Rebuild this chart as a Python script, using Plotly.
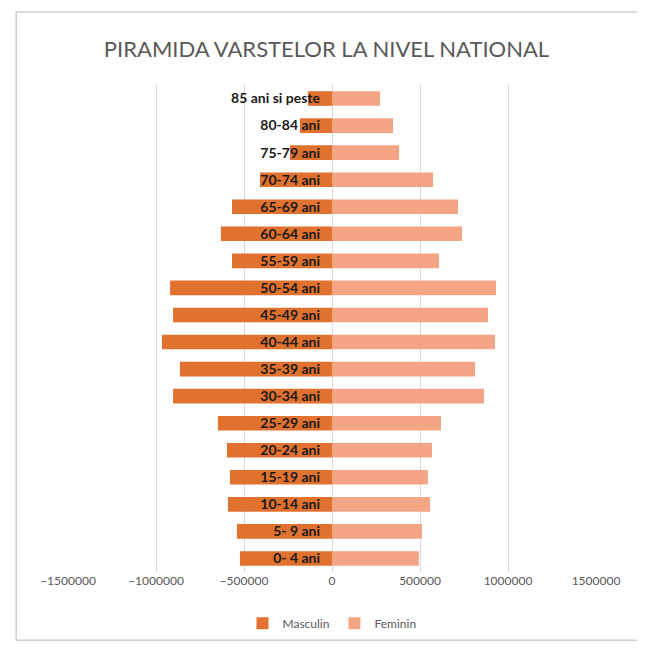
import plotly.graph_objects as go

categories = ["0- 4 ani", "5- 9 ani", "10-14 ani", "15-19 ani", "20-24 ani", "25-29 ani",
              "30-34 ani", "35-39 ani", "40-44 ani", "45-49 ani", "50-54 ani", "55-59 ani",
              "60-64 ani", "65-69 ani", "70-74 ani", "75-79 ani", "80-84 ani", "85 ani si peste"]
masculin = [-523000, -540000, -591000, -580000, -597000, -648000,
            -903000, -864000, -966000, -903000, -920000, -568000,
            -631000, -568000, -409000, -239000, -182000, -136000]
feminin = [494000, 511000, 557000, 545000, 568000, 619000,
           864000, 813000, 926000, 886000, 932000, 608000,
           739000, 716000, 574000, 381000, 347000, 273000]
tick_vals = [-1500000, -1000000, -500000, 0, 500000, 1000000, 1500000]

fig = go.Figure()
fig.add_trace(go.Bar(y=categories, x=masculin, orientation="h", name="Masculin",
                     marker=dict(color="#E0712F", line=dict(width=0))))
fig.add_trace(go.Bar(y=categories, x=feminin, orientation="h", name="Feminin",
                     marker=dict(color="#F4A586", line=dict(width=0))))

fig.update_layout(
    width=637, height=645,
    barmode="overlay", bargap=0.46,
    paper_bgcolor="white", plot_bgcolor="white",
    margin=dict(l=60, r=49, t=77, b=81),
    font=dict(family="Lato, Open Sans, sans-serif", color="#595959"),
    title=dict(text="PIRAMIDA VARSTELOR LA NIVEL NATIONAL", x=0.5, xanchor="center",
               y=0.936, yanchor="middle",
               font=dict(size=22, color="#595959", family="Lato, Open Sans, sans-serif")),
    xaxis=dict(range=[-1500000, 1500000], tickvals=tick_vals, tickformat="d",
               showgrid=True, gridcolor="#D9D9D9", gridwidth=1, zeroline=False,
               tickfont=dict(size=12, color="#595959"), ticks="", showline=False),
    yaxis=dict(anchor="free", position=0.5, showgrid=False, zeroline=False,
               showline=False, ticks="", ticklabelstandoff=12,
               tickfont=dict(size=14, color="#1a1a1a", family="Lato, sans-serif",
                             weight="bold")),
    legend=dict(orientation="h", x=0.5, xanchor="center", y=-0.105, yanchor="middle",
                font=dict(size=12, color="#595959"), traceorder="normal", itemwidth=30),
    shapes=[dict(type="rect", xref="paper", yref="paper", x0=-0.098, x1=1.083,
                 y0=-0.14, y1=1.15, line=dict(color="#CFCFCF", width=1.5),
                 fillcolor="rgba(0,0,0,0)", layer="below")],
)

fig.write_html("out.html")
